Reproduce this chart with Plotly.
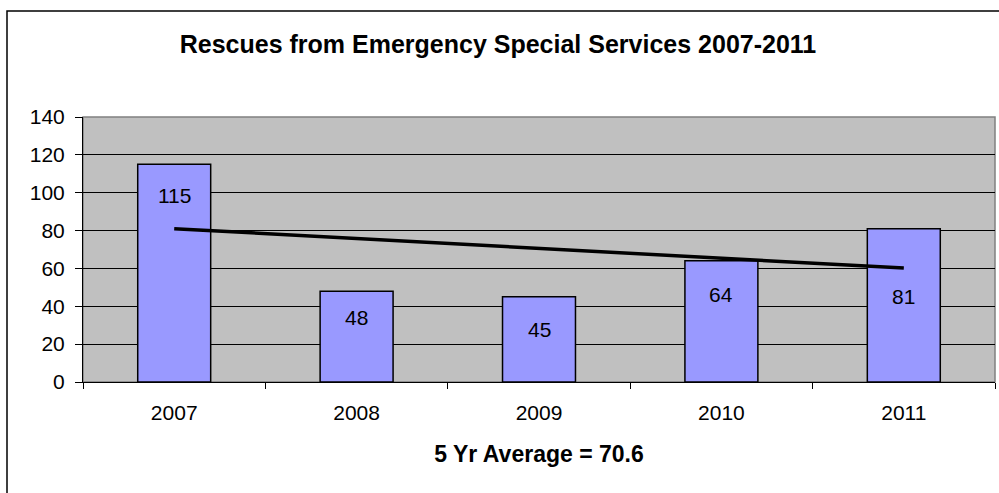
import numpy as np
import plotly.graph_objects as go

years = ["2007", "2008", "2009", "2010", "2011"]
rescues = [115, 48, 45, 64, 81]
title_text = "Rescues from Emergency Special Services 2007-2011"
avg_label = "5 Yr Average = 70.6"
y_ticks = [0, 20, 40, 60, 80, 100, 120, 140]

# label offsets below bar top (px), as placed in the original
label_offsets = [31, 26, 33, 34, 68]

FONT = "Liberation Sans, Arial, sans-serif"

# linear trend computed from data
xi = np.arange(1, len(rescues) + 1)
slope, intercept = np.polyfit(xi, rescues, 1)
trend = [slope * xi[0] + intercept, slope * xi[-1] + intercept]

fig = go.Figure()
fig.add_trace(go.Bar(
    x=years, y=rescues, width=0.4,
    marker=dict(color="#9999FF", line=dict(color="#000000", width=1.5)),
    showlegend=False, hoverinfo="skip",
))
fig.add_trace(go.Scatter(
    x=[years[0], years[-1]], y=trend, mode="lines",
    line=dict(color="#000000", width=3.5),
    showlegend=False, hoverinfo="skip",
))

for i, (v, off) in enumerate(zip(rescues, label_offsets)):
    fig.add_annotation(x=i, y=v, text=str(v), showarrow=False,
                       yshift=-off, yanchor="middle",
                       font=dict(family=FONT, size=21, color="#000000"))

# outer chart border (left and top visible)
fig.add_shape(type="rect", xref="paper", yref="paper",
              x0=(7 - 83) / 912, x1=1.2, y0=-1.0, y1=(382 - 11) / 265,
              line=dict(color="#000000", width=1.5), layer="above")
# plot area border
fig.add_shape(type="rect", xref="paper", yref="paper",
              x0=0, x1=1, y0=0, y1=1,
              line=dict(color="#808080", width=1.5), layer="below")

fig.update_layout(
    width=999, height=493,
    margin=dict(l=83, r=4, t=117, b=111),
    paper_bgcolor="#FFFFFF", plot_bgcolor="#C0C0C0",
    title=dict(text="<b>" + title_text + "</b>", x=(498 - 0) / 999, xanchor="center",
               y=1 - 44 / 493, yanchor="middle", yref="container", xref="container",
               font=dict(family=FONT, size=25, color="#000000")),
)
fig.update_xaxes(
    type="category", range=[-0.5, len(years) - 0.5],
    showline=True, linecolor="#000000", linewidth=1,
    ticks="outside", tickson="boundaries", ticklen=6, tickcolor="#000000",
    ticklabelstandoff=12, tickangle=0,
    tickfont=dict(family=FONT, size=21, color="#000000"),
    title=dict(text="<b>" + avg_label + "</b>", standoff=22,
               font=dict(family=FONT, size=23, color="#000000")),
    showgrid=False,
)
fig.update_yaxes(
    range=[0, 140], tickvals=y_ticks, showline=True, linecolor="#000000",
    linewidth=1, ticks="outside", ticklen=7, tickcolor="#000000",
    ticklabelstandoff=6,
    tickfont=dict(family=FONT, size=21, color="#000000"),
    showgrid=True, gridcolor="#000000", gridwidth=1, zeroline=False,
)

fig.write_html("out.html")
